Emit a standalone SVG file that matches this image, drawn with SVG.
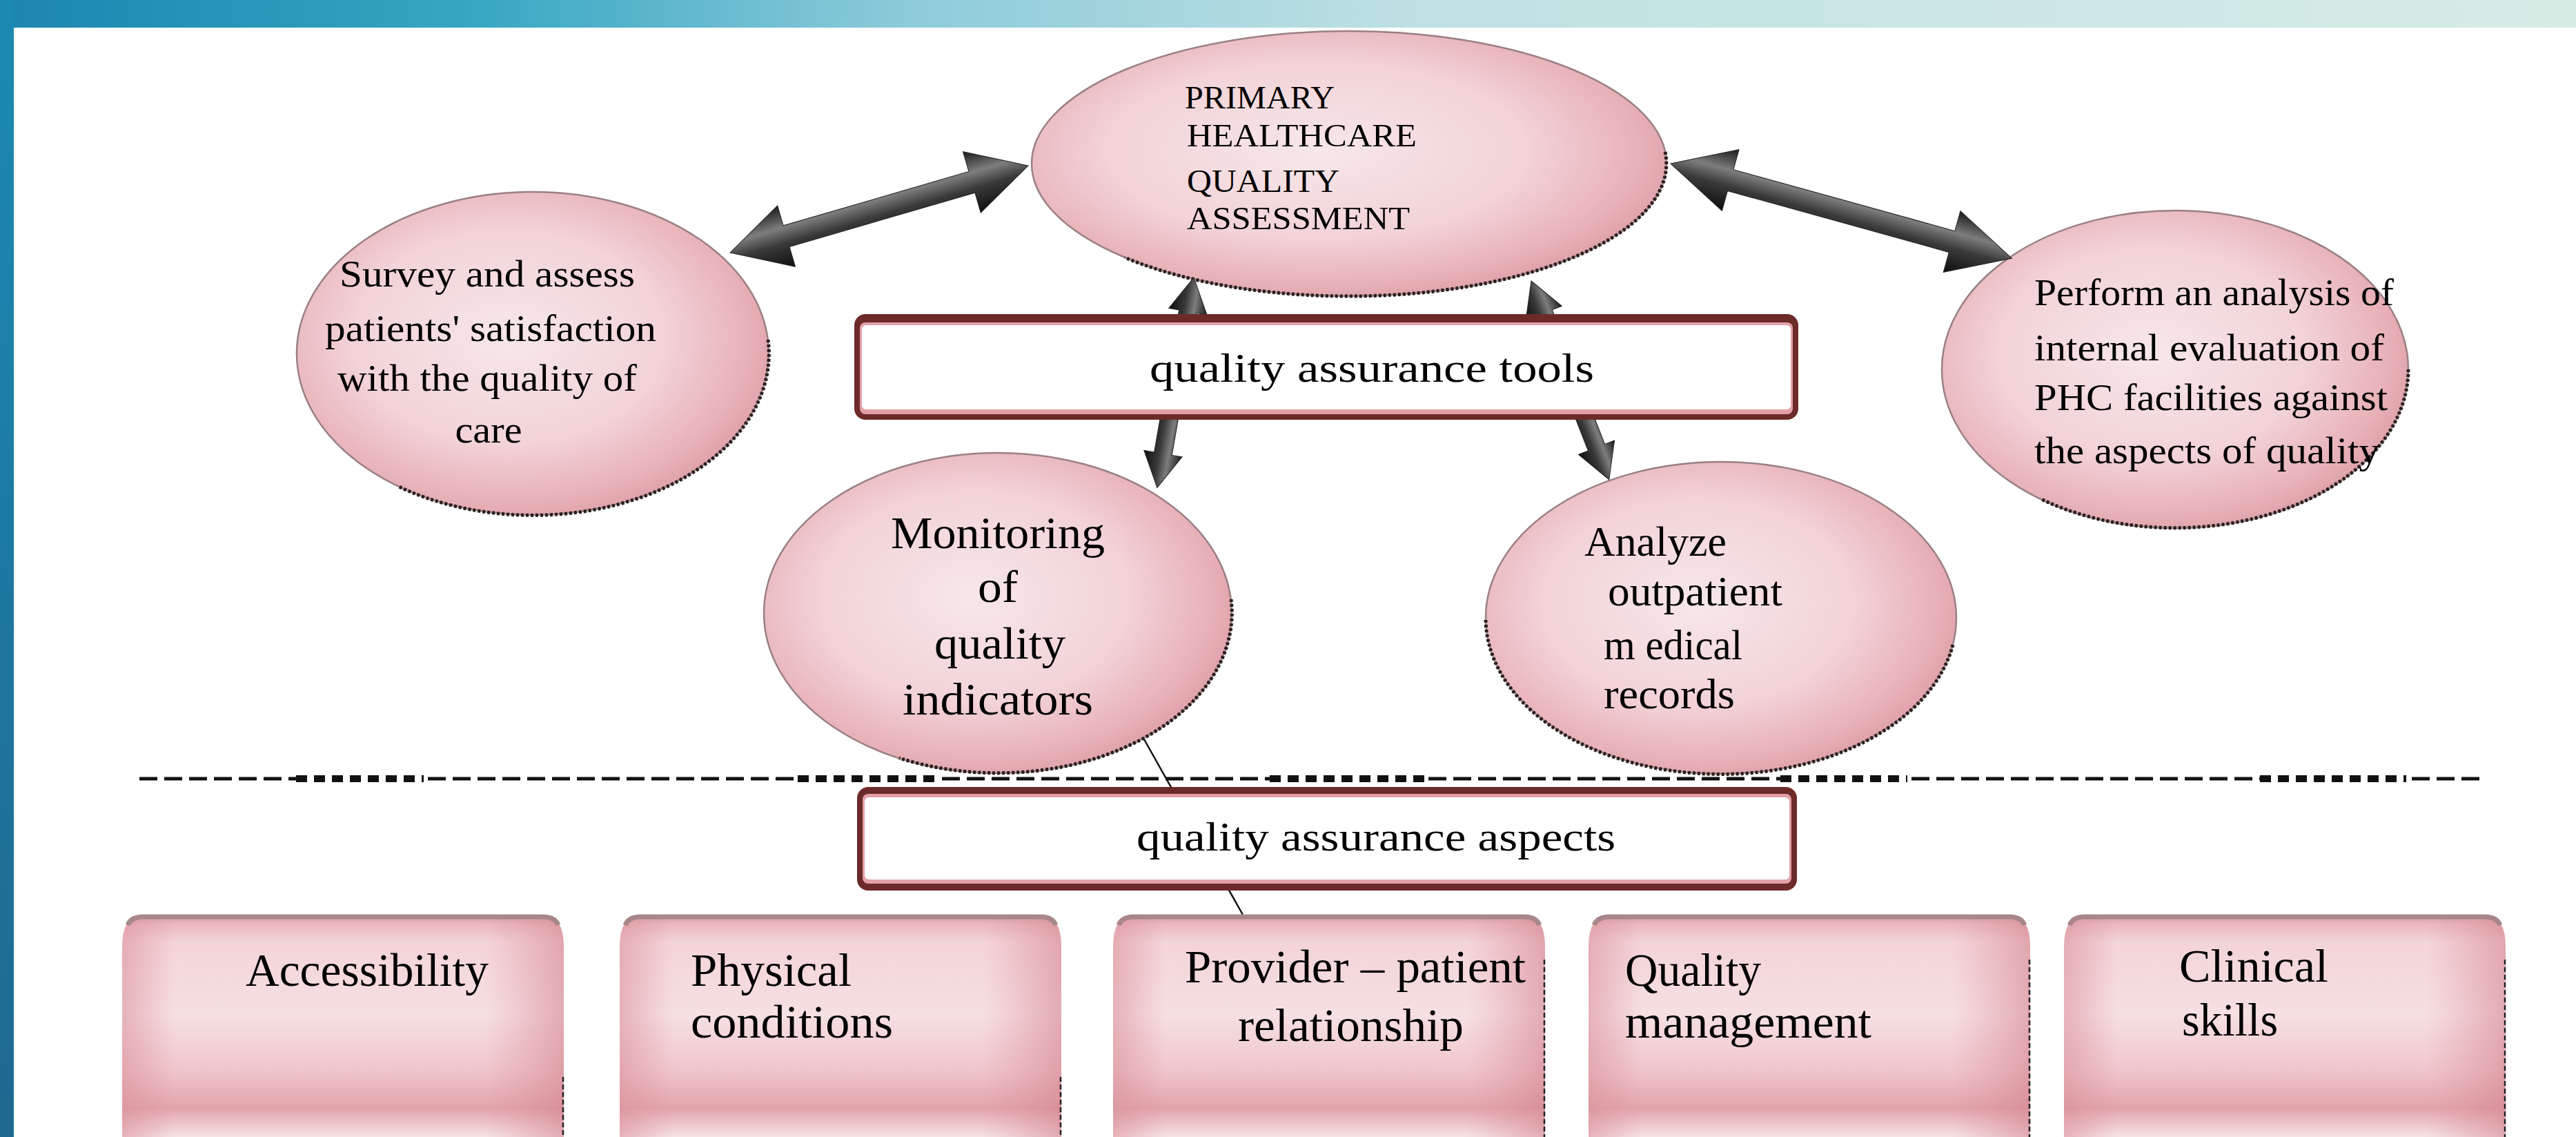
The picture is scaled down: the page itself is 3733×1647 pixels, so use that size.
<svg xmlns="http://www.w3.org/2000/svg" width="3733" height="1647" viewBox="0 0 3733 1647">
<style>
.t{font-family:"Liberation Serif","Times New Roman",serif;fill:#000}
.ell{fill:url(#eg);stroke:#9a8084;stroke-width:2.5}
.dot{fill:none;stroke:#2a1e1e;stroke-width:5;stroke-dasharray:4 3}
.arr{fill:url(#ag);stroke:#222;stroke-width:1}
.bx{fill:url(#bg)}
.bxh{fill:url(#bh)}
.btop{fill:none;stroke:#a8868a;stroke-width:7}
.bedge{fill:none;stroke:#222;stroke-width:2.5;stroke-dasharray:7 4}
.dash{stroke:#111;stroke-width:5;stroke-dasharray:26 10}
.sq{stroke:#111;stroke-width:10;stroke-dasharray:16 10}
</style>
<defs>
<linearGradient id="topband" x1="0" y1="0" x2="1" y2="0">
<stop offset="0" stop-color="#1b85af"/>
<stop offset="0.18" stop-color="#35a6c2"/>
<stop offset="0.35" stop-color="#8ccbd9"/>
<stop offset="0.55" stop-color="#bfe1e4"/>
<stop offset="1" stop-color="#d8ece6"/>
</linearGradient>
<linearGradient id="leftband" x1="0" y1="0" x2="0" y2="1">
<stop offset="0" stop-color="#1b8ab3"/>
<stop offset="1" stop-color="#1f6890"/>
</linearGradient>
<radialGradient id="eg" cx="0.45" cy="0.45" r="0.6">
<stop offset="0" stop-color="#f7e7e9"/>
<stop offset="0.55" stop-color="#f2d3d7"/>
<stop offset="0.85" stop-color="#e7b1b7"/>
<stop offset="1" stop-color="#dc9aa2"/>
</radialGradient>
<linearGradient id="ag" x1="0" y1="0" x2="0" y2="1">
<stop offset="0" stop-color="#1a1a1a"/>
<stop offset="0.35" stop-color="#7d7d7d"/>
<stop offset="0.6" stop-color="#3a3a3a"/>
<stop offset="1" stop-color="#0e0e0e"/>
</linearGradient>
<linearGradient id="bg" x1="0" y1="0" x2="0" y2="1">
<stop offset="0" stop-color="#c79ca1"/>
<stop offset="0.04" stop-color="#eab7bd"/>
<stop offset="0.12" stop-color="#f3d4d7"/>
<stop offset="0.45" stop-color="#f6e0e2"/>
<stop offset="0.7" stop-color="#efc6cb"/>
<stop offset="0.87" stop-color="#e2a4ab"/>
<stop offset="1" stop-color="#f7e2e4"/>
</linearGradient>
<linearGradient id="bh" x1="0" y1="0" x2="1" y2="0">
<stop offset="0" stop-color="#d98e98" stop-opacity="0.55"/>
<stop offset="0.12" stop-color="#d98e98" stop-opacity="0"/>
<stop offset="0.82" stop-color="#d98e98" stop-opacity="0"/>
<stop offset="1" stop-color="#d27f8a" stop-opacity="0.55"/>
</linearGradient>
</defs>

<rect x="0" y="0" width="3733" height="1647" fill="#ffffff"/>
<rect x="0" y="0" width="3733" height="40" fill="url(#topband)"/>
<rect x="0" y="0" width="20" height="1647" fill="url(#leftband)"/>

<!-- dashed separator -->
<g id="separator">
<line class="dash" x1="202" y1="1128" x2="429" y2="1128"/>
<line class="sq" x1="429" y1="1128" x2="614" y2="1128"/>
<line class="dash" x1="620" y1="1128" x2="1156" y2="1128"/>
<line class="sq" x1="1156" y1="1128" x2="1357" y2="1128"/>
<line class="dash" x1="1365" y1="1128" x2="1840" y2="1128"/>
<line class="sq" x1="1840" y1="1128" x2="2064" y2="1128"/>
<line class="dash" x1="2070" y1="1128" x2="2580" y2="1128"/>
<line class="sq" x1="2580" y1="1128" x2="2764" y2="1128"/>
<line class="dash" x1="2770" y1="1128" x2="3275" y2="1128"/>
<line class="sq" x1="3275" y1="1128" x2="3487" y2="1128"/>
<line class="dash" x1="3495" y1="1128" x2="3602" y2="1128"/>
</g>

<!-- ellipse nodes -->
<g id="node-primary">
<ellipse class="ell" cx="1955" cy="237" rx="460" ry="192"/>
<path class="dot" d="M2413,220 A460,192 0 0 1 1630,373"/>
<text class="t" font-size="46"><tspan x="1717" y="157" textLength="217" lengthAdjust="spacingAndGlyphs">PRIMARY</tspan><tspan x="1720" y="212" textLength="333" lengthAdjust="spacingAndGlyphs">HEALTHCARE</tspan><tspan x="1720" y="278" textLength="221" lengthAdjust="spacingAndGlyphs">QUALITY</tspan><tspan x="1720" y="332" textLength="323" lengthAdjust="spacingAndGlyphs">ASSESSMENT</tspan></text>
</g>

<g id="node-survey">
<ellipse class="ell" cx="772" cy="512" rx="342" ry="234"/>
<path class="dot" d="M1113,492 A342,234 0 0 1 576,704"/>
<text class="t" font-size="54" text-anchor="middle"><tspan x="706" y="415" textLength="428" lengthAdjust="spacingAndGlyphs">Survey and assess</tspan><tspan x="711" y="494" textLength="480" lengthAdjust="spacingAndGlyphs">patients' satisfaction</tspan><tspan x="706" y="566" textLength="434" lengthAdjust="spacingAndGlyphs">with the quality of</tspan><tspan x="708" y="641" textLength="97" lengthAdjust="spacingAndGlyphs">care</tspan></text>
</g>

<g id="node-perform">
<ellipse class="ell" cx="3152" cy="535" rx="338" ry="230"/>
<path class="dot" d="M3490,535 A338,230 0 0 1 2958,723"/>
<text class="t" font-size="54"><tspan x="2948" y="442" textLength="521" lengthAdjust="spacingAndGlyphs">Perform an analysis of</tspan><tspan x="2948" y="522" textLength="507" lengthAdjust="spacingAndGlyphs">internal evaluation of</tspan><tspan x="2948" y="594" textLength="512" lengthAdjust="spacingAndGlyphs">PHC facilities against</tspan><tspan x="2948" y="671" textLength="500" lengthAdjust="spacingAndGlyphs">the aspects of quality</tspan></text>
</g>

<g id="node-monitoring">
<ellipse class="ell" cx="1446" cy="888" rx="339" ry="232"/>
<path class="dot" d="M1784,868 A339,232 0 0 1 1303,1098"/>
<text class="t" font-size="66" text-anchor="middle"><tspan x="1446" y="794" textLength="310" lengthAdjust="spacingAndGlyphs">Monitoring</tspan><tspan x="1446" y="872" textLength="58" lengthAdjust="spacingAndGlyphs">of</tspan><tspan x="1449" y="954" textLength="190" lengthAdjust="spacingAndGlyphs">quality</tspan><tspan x="1446" y="1035" textLength="276" lengthAdjust="spacingAndGlyphs">indicators</tspan></text>
</g>

<g id="node-analyze">
<ellipse class="ell" cx="2494" cy="895" rx="341" ry="226"/>
<path class="dot" d="M2830,934 A341,226 0 0 1 2153,895"/>
<text class="t" font-size="62"><tspan x="2296" y="805" textLength="206" lengthAdjust="spacingAndGlyphs">Analyze</tspan><tspan x="2330" y="877" textLength="253" lengthAdjust="spacingAndGlyphs">outpatient</tspan><tspan x="2324" y="955" textLength="201" lengthAdjust="spacingAndGlyphs">m edical</tspan><tspan x="2324" y="1026" textLength="190" lengthAdjust="spacingAndGlyphs">records</tspan></text>
</g>

<!-- connectors -->
<g id="connectors">
<polygon class="arr" transform="translate(1058,366) rotate(-16.26)" points="0,0 85,-46 85,-16 365,-16 365,-46 450,0 365,46 365,16 85,16 85,46"/>
<polygon class="arr" transform="translate(2421,237) rotate(15.5)" points="0,0 90,-46 90,-16 423,-16 423,-46 513,0 423,46 423,16 90,16 90,46"/>
<polygon class="arr" transform="translate(1730,402) rotate(99.9)" points="0,0 50,-28 50,-13 259,-13 259,-28 309,0 259,28 259,13 50,13 50,28"/>
<polygon class="arr" transform="translate(2219,407) rotate(68.6)" points="0,0 50,-28 50,-13 259,-13 259,-28 309,0 259,28 259,13 50,13 50,28"/>
<line x1="1658" y1="1071" x2="1801" y2="1325" stroke="#111" stroke-width="2.5"/>
</g>

<!-- rectangular label nodes -->
<g id="node-tools">
<rect x="1238" y="455" width="1368" height="153" rx="16" fill="#6d2a2a"/>
<rect x="1246" y="467" width="1352" height="133" rx="8" fill="#e3a0a8"/>
<rect x="1249" y="471" width="1346" height="122" rx="6" fill="#ffffff"/>
<text class="t" x="1666" y="553" font-size="60" textLength="644" lengthAdjust="spacingAndGlyphs">quality assurance tools</text>
</g>

<g id="node-aspects">
<rect x="1242" y="1140" width="1362" height="150" rx="16" fill="#6d2a2a"/>
<rect x="1250" y="1150" width="1346" height="130" rx="8" fill="#e3a0a8"/>
<rect x="1253" y="1155" width="1340" height="119" rx="6" fill="#ffffff"/>
<text class="t" x="1647" y="1232" font-size="60" textLength="694" lengthAdjust="spacingAndGlyphs">quality assurance aspects</text>
</g>

<!-- bottom aspect boxes -->
<g id="node-accessibility">
<path class="bx" d="M177,1647 L177,1372 Q177,1326 207,1325 L787,1325 Q817,1326 817,1372 L817,1647 Z"/>
<path class="bxh" d="M177,1647 L177,1372 Q177,1326 207,1325 L787,1325 Q817,1326 817,1372 L817,1647 Z"/>
<path class="btop" d="M185,1340 Q190,1328 207,1328 L787,1328 Q804,1328 809,1340"/>
<path class="bedge" d="M816,1560 L816,1647"/>
<text class="t" x="356" y="1428" font-size="68" textLength="352" lengthAdjust="spacingAndGlyphs">Accessibility</text>
</g>

<g id="node-physical">
<path class="bx" d="M898,1647 L898,1372 Q898,1326 928,1325 L1508,1325 Q1538,1326 1538,1372 L1538,1647 Z"/>
<path class="bxh" d="M898,1647 L898,1372 Q898,1326 928,1325 L1508,1325 Q1538,1326 1538,1372 L1538,1647 Z"/>
<path class="btop" d="M906,1340 Q911,1328 928,1328 L1508,1328 Q1525,1328 1530,1340"/>
<path class="bedge" d="M1537,1560 L1537,1647"/>
<text class="t" font-size="68"><tspan x="1001" y="1428" textLength="233" lengthAdjust="spacingAndGlyphs">Physical</tspan><tspan x="1001" y="1503" textLength="293" lengthAdjust="spacingAndGlyphs">conditions</tspan></text>
</g>

<g id="node-provider">
<path class="bx" d="M1613,1647 L1613,1372 Q1613,1326 1643,1325 L2209,1325 Q2239,1326 2239,1372 L2239,1647 Z"/>
<path class="bxh" d="M1613,1647 L1613,1372 Q1613,1326 1643,1325 L2209,1325 Q2239,1326 2239,1372 L2239,1647 Z"/>
<path class="btop" d="M1621,1340 Q1626,1328 1643,1328 L2209,1328 Q2226,1328 2231,1340"/>
<path class="bedge" d="M2238,1390 L2238,1647"/>
<text class="t" font-size="68"><tspan x="1717" y="1423" textLength="494" lengthAdjust="spacingAndGlyphs">Provider – patient</tspan><tspan x="1794" y="1508" textLength="327" lengthAdjust="spacingAndGlyphs">relationship</tspan></text>
</g>

<g id="node-quality-management">
<path class="bx" d="M2302,1647 L2302,1372 Q2302,1326 2332,1325 L2912,1325 Q2942,1326 2942,1372 L2942,1647 Z"/>
<path class="bxh" d="M2302,1647 L2302,1372 Q2302,1326 2332,1325 L2912,1325 Q2942,1326 2942,1372 L2942,1647 Z"/>
<path class="btop" d="M2310,1340 Q2315,1328 2332,1328 L2912,1328 Q2929,1328 2934,1340"/>
<path class="bedge" d="M2941,1390 L2941,1647"/>
<text class="t" font-size="68"><tspan x="2355" y="1428" textLength="197" lengthAdjust="spacingAndGlyphs">Quality</tspan><tspan x="2355" y="1503" textLength="357" lengthAdjust="spacingAndGlyphs">management</tspan></text>
</g>

<g id="node-clinical">
<path class="bx" d="M2991,1647 L2991,1372 Q2991,1326 3021,1325 L3601,1325 Q3631,1326 3631,1372 L3631,1647 Z"/>
<path class="bxh" d="M2991,1647 L2991,1372 Q2991,1326 3021,1325 L3601,1325 Q3631,1326 3631,1372 L3631,1647 Z"/>
<path class="btop" d="M2999,1340 Q3004,1328 3021,1328 L3601,1328 Q3618,1328 3623,1340"/>
<path class="bedge" d="M3630,1390 L3630,1647"/>
<text class="t" font-size="68"><tspan x="3158" y="1422" textLength="216" lengthAdjust="spacingAndGlyphs">Clinical</tspan><tspan x="3162" y="1500" textLength="139" lengthAdjust="spacingAndGlyphs">skills</tspan></text>
</g>
</svg>
